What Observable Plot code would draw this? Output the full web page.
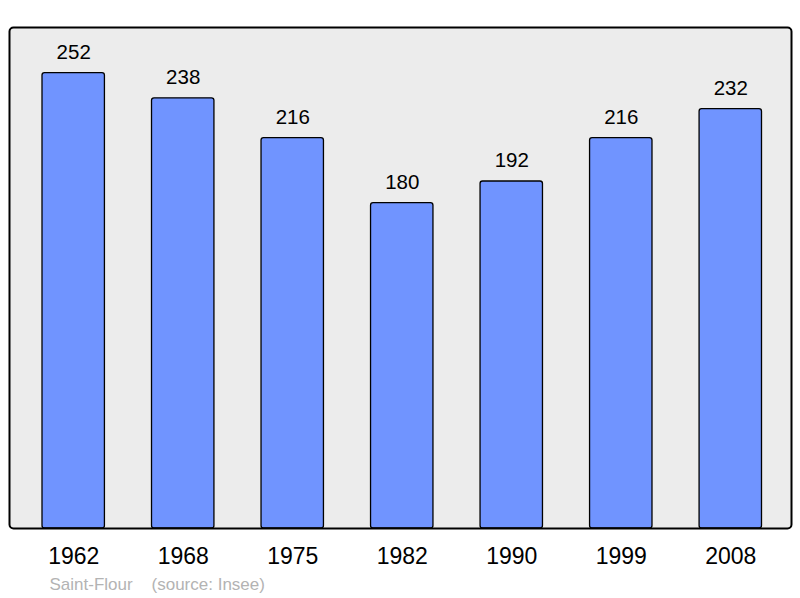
<!DOCTYPE html>
<html>
<head>
<meta charset="utf-8">
<script src="https://cdn.jsdelivr.net/npm/d3@7"></script>
<script src="https://cdn.jsdelivr.net/npm/@observablehq/plot@0.6"></script>
<style>
  html, body { margin: 0; padding: 0; background: #ffffff; }
</style>
</head>
<body>
<div id="chart"></div>
<script>
const years = ["1962", "1968", "1975", "1982", "1990", "1999", "2008"];
const population = [252, 238, 216, 180, 192, 216, 232];
const captionText = "Saint-Flour    (source: Insee)";

const data = years.map((y, i) => ({year: y, value: population[i]}));
const yMax = d3.max(population) * 1.1;

const chart = Plot.plot({
  width: 800,
  height: 598,
  marginTop: 27,
  marginBottom: 70,
  marginLeft: 9,
  marginRight: 9,
  style: {fontFamily: "'Liberation Sans', Arial, sans-serif", background: "#ffffff"},
  x: {domain: years, paddingInner: 0.43, paddingOuter: 0, insetLeft: 33, insetRight: 29.5, round: false, label: null},
  y: {domain: [0, yMax], axis: null},
  marks: [
    Plot.frame({fill: "#ececec", stroke: null, rx: 4}),
    Plot.barY(data, {x: "year", y: "value", fill: "#7094ff", stroke: "#000000", strokeWidth: 1.3, rx: 2.5}),
    Plot.frame({stroke: "#000000", strokeWidth: 2, rx: 4, fill: "none"}),
    Plot.text(data, {x: "year", y: "value", text: d => String(d.value), lineAnchor: "bottom", dy: -14, fontSize: 20.5, fill: "#000000"}),
    Plot.axisX({tickSize: 0, tickPadding: 19, fontSize: 23, fill: "#000000", label: null}),
    Plot.text([captionText], {frameAnchor: "bottom-left", text: d => d, dx: 40, dy: 61, fontSize: 17, fill: "#b3b3b3", textAnchor: "start", lineAnchor: "bottom"})
  ]
});
document.getElementById("chart").append(chart);
</script>
</body>
</html>
